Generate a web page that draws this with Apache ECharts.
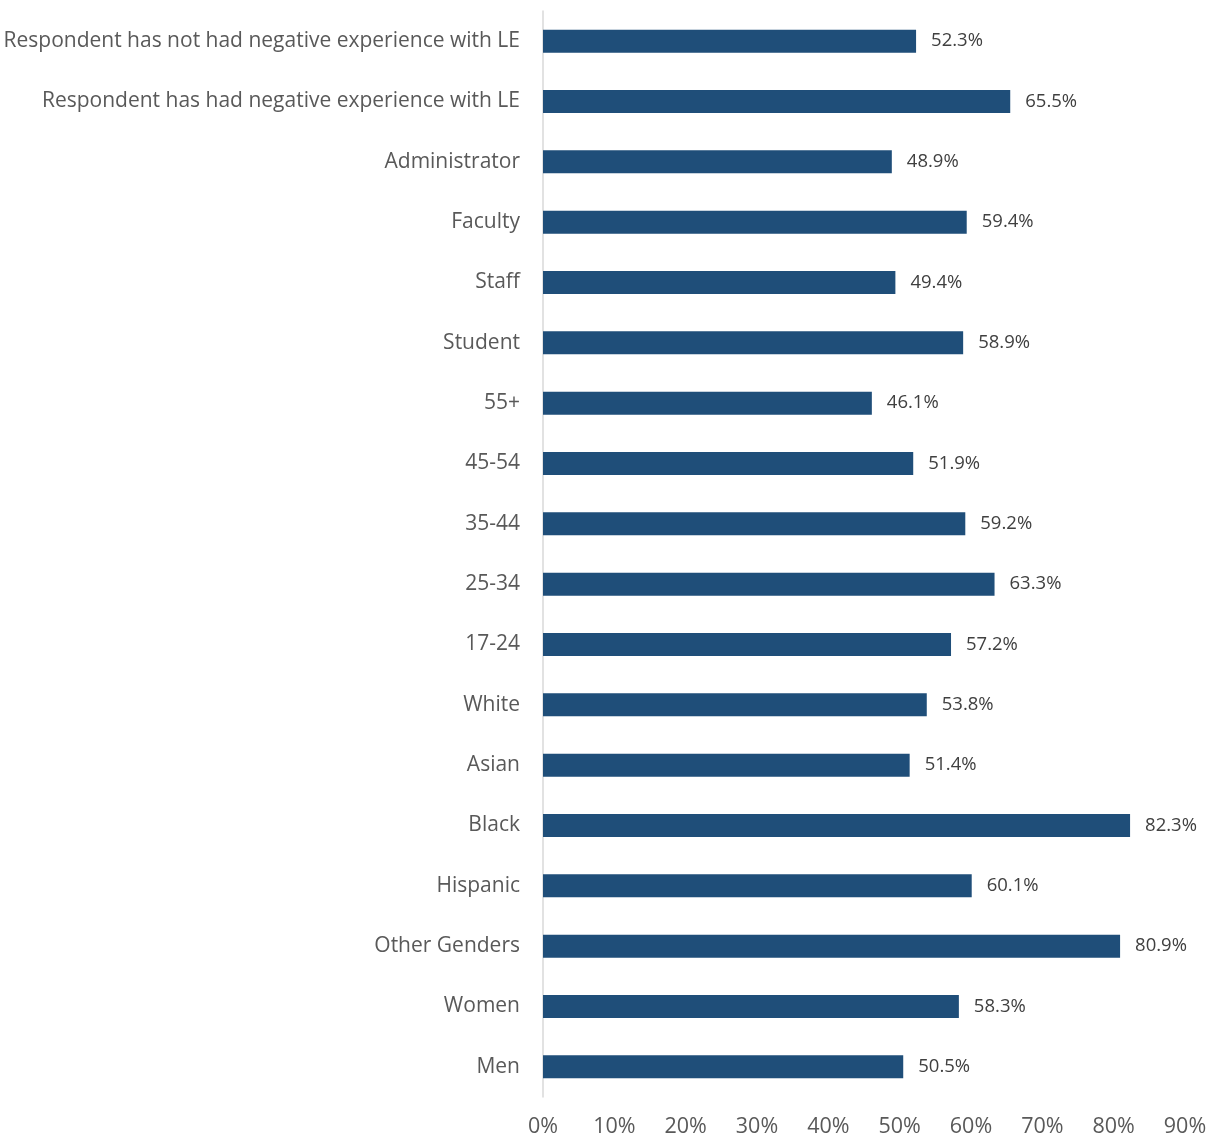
<!DOCTYPE html>
<html><head><meta charset="utf-8">
<script src="https://cdn.jsdelivr.net/npm/echarts@6/dist/echarts.min.js"></script>
<style>html,body{margin:0;padding:0;background:#fff}#c{width:1214px;height:1138px}</style>
</head><body><div id="c"></div>
<script>
// Categories listed top to bottom
const categories = [
  "Respondent has not had negative experience with LE",
  "Respondent has had negative experience with LE",
  "Administrator","Faculty","Staff","Student",
  "55+","45-54","35-44","25-34","17-24",
  "White","Asian","Black","Hispanic",
  "Other Genders","Women","Men"
];
const values = [52.3,65.5,48.9,59.4,49.4,58.9,46.1,51.9,59.2,63.3,57.2,53.8,51.4,82.3,60.1,80.9,58.3,50.5];
const tickLabels = ["0%","10%","20%","30%","40%","50%","60%","70%","80%","90%"];

const chart = echarts.init(document.getElementById('c'));
chart.setOption({
  animation:false,
  grid:{left:543,right:29,top:11,bottom:39.5,containLabel:false},
  xAxis:{type:'value',min:0,max:90,interval:10,
    axisLine:{show:false},axisTick:{show:false},splitLine:{show:false},
    axisLabel:{color:'#595959',fontFamily:'Open Sans',fontSize:21.5,margin:19,
      formatter:(v)=>tickLabels[Math.round(v/10)]}},
  yAxis:{type:'category',inverse:true,data:categories,
    axisLine:{show:true,lineStyle:{color:'#d9d9d9',width:1.5}},axisTick:{show:false},
    axisLabel:{color:'#595959',fontFamily:'Open Sans',fontSize:21,margin:23}},
  series:[{type:'bar',data:values,barWidth:23,
    itemStyle:{color:'#1F4E79'},
    label:{show:true,position:'right',distance:15,color:'#404040',fontFamily:'Open Sans',fontSize:18.5,
      formatter:(p)=>p.value.toFixed(1)+'%'}}]
});
</script></body></html>
